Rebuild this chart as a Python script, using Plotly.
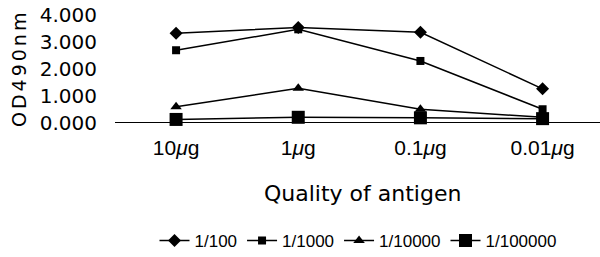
import plotly.graph_objects as go

categories = ["10<i>μ</i>g", "1<i>μ</i>g", "0.1<i>μ</i>g", "0.01<i>μ</i>g"]
s_100 = [3.33, 3.55, 3.37, 1.26]
s_1000 = [2.70, 3.48, 2.30, 0.50]
s_10000 = [0.59, 1.28, 0.50, 0.20]
s_100000 = [0.12, 0.20, 0.18, 0.15]
series_names = ["1/100", "1/1000", "1/10000", "1/100000"]
ytick_vals = [0, 1, 2, 3, 4]
ytick_text = ["0.000", "1.000", "2.000", "3.000", "4.000"]

W, H = 600, 257
L, T, B = 115, 10, 133
PW = W - L
PH = H - T - B
FONT = "DejaVu Sans, Liberation Sans, sans-serif"

xs = list(range(len(categories)))
fig = go.Figure()
styles = [("diamond", 10), ("square", 8), ("triangle-up", 10), ("square", 13)]
for name, vals, (sym, sz) in zip(series_names, [s_100, s_1000, s_10000, s_100000], styles):
    fig.add_trace(go.Scatter(
        x=xs, y=vals, name=name, mode="lines+markers",
        line=dict(color="black", width=1.5),
        marker=dict(symbol=sym, size=sz, color="black"),
        cliponaxis=False,
    ))

def px(xpix):
    return (xpix - L) / PW

def py(ypix):
    return (H - B - ypix) / PH

fig.update_layout(
    width=W, height=H,
    margin=dict(l=L, r=0, t=T, b=B, autoexpand=False),
    paper_bgcolor="white", plot_bgcolor="white",
    font=dict(family=FONT, color="black"),
    showlegend=True,
    legend=dict(orientation="h", xref="container", yref="container",
                x=358 / W, xanchor="center", y=1 - 241 / H, yanchor="middle",
                font=dict(size=17, family="Liberation Sans Narrow, Liberation Sans, sans-serif"),
                itemwidth=30, tracegroupgap=0),
    annotations=[
        dict(text='<span style="letter-spacing:3px">OD490nm</span>', xref="paper", yref="paper",
             x=px(19), y=py(69),
             showarrow=False, textangle=-90, font=dict(size=19),
             xanchor="center", yanchor="middle"),
        dict(text="Quality of antigen", xref="paper", yref="paper", x=px(362),
             y=py(193), showarrow=False, font=dict(size=22),
             xanchor="center", yanchor="middle"),
    ],
)
fig.update_xaxes(
    range=[-0.5, 3.47], tickvals=xs, ticktext=categories,
    showgrid=False, zeroline=False, showline=False, ticks="",
    tickfont=dict(size=21, family="Liberation Sans, Arial, sans-serif"),
    ticklabelstandoff=9, automargin=False,
)
fig.update_yaxes(
    range=[-0.05, 4.2], tickvals=ytick_vals, ticktext=ytick_text,
    showgrid=False, zeroline=True, zerolinecolor="black", zerolinewidth=1.2,
    showline=False, ticks="", tickfont=dict(size=20), ticklabelstandoff=17,
    ticklabeloverflow="allow", automargin=False,
)
fig.write_html("out.html", config={"displayModeBar": False},
               post_script="document.body.style.margin='0';")
